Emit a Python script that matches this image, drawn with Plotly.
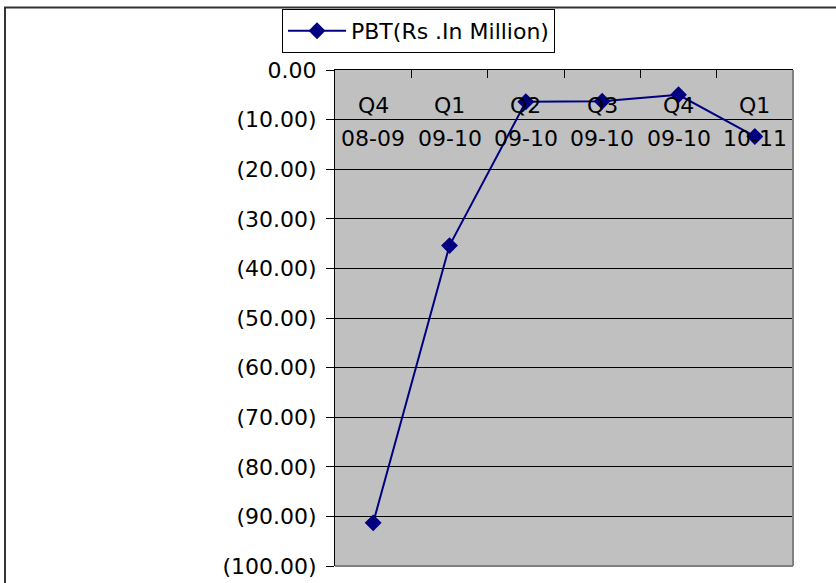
import plotly.graph_objects as go

# ---- data ----
quarters = ["Q4", "Q1", "Q2", "Q3", "Q4", "Q1"]
years = ["08-09", "09-10", "09-10", "09-10", "09-10", "10-11"]
categories = [q + " " + y for q, y in zip(quarters, years)]
pbt = [-91.3, -35.4, -6.4, -6.3, -5.0, -13.4]
series_name = "PBT(Rs .In Million)"

y_tickvals = [0, -10, -20, -30, -40, -50, -60, -70, -80, -90, -100]
y_ticktext = ["0.00", "(10.00)", "(20.00)", "(30.00)", "(40.00)", "(50.00)",
              "(60.00)", "(70.00)", "(80.00)", "(90.00)", "(100.00)"]

FONT = dict(family="DejaVu Sans", size=22, color="black")
NAVY = "#000080"

W, H = 836, 583
L, R, T, B = 335, 43, 70, 17
pw, ph = W - L - R, H - T - B


def px_x(x):
    return (x - L) / pw


def px_y(y):
    return 1 - (y - T) / ph


fig = go.Figure()
fig.add_trace(go.Scatter(
    x=categories, y=pbt, name=series_name, mode="lines+markers",
    line=dict(color=NAVY, width=2),
    marker=dict(symbol="diamond", size=13, color=NAVY),
    showlegend=True,
))

annotations = []
for c, q, yr in zip(categories, quarters, years):
    annotations.append(dict(x=c, xref="x", y=px_y(105), yref="paper", text=q,
                            showarrow=False, font=FONT, xanchor="center", yanchor="middle"))
    annotations.append(dict(x=c, xref="x", y=px_y(138), yref="paper", text=yr,
                            showarrow=False, font=FONT, xanchor="center", yanchor="middle"))

shapes = [
    # right and bottom plot-area borders (gray)
    dict(type="line", xref="paper", yref="paper", x0=1, x1=1, y0=0, y1=1,
         line=dict(color="#808080", width=2)),
    dict(type="line", xref="paper", yref="paper", x0=0, x1=1, y0=0, y1=0,
         line=dict(color="#808080", width=2)),
    # outer chart frame (left and top)
    dict(type="line", xref="paper", yref="paper", x0=px_x(5), x1=px_x(5),
         y0=px_y(7.5), y1=px_y(600), line=dict(color="#333333", width=2)),
    dict(type="line", xref="paper", yref="paper", x0=px_x(4), x1=px_x(850),
         y0=px_y(7.5), y1=px_y(7.5), line=dict(color="#333333", width=2)),
]

fig.update_layout(
    width=W, height=H,
    margin=dict(l=L, r=R, t=T, b=B, pad=0, autoexpand=False),
    paper_bgcolor="white", plot_bgcolor="#C0C0C0",
    font=FONT,
    showlegend=True,
    legend=dict(x=px_x(282), y=px_y(9), xanchor="left", yanchor="top",
                bgcolor="white", bordercolor="black", borderwidth=1,
                font=FONT, itemwidth=58, tracegroupgap=0),
    annotations=annotations,
    shapes=shapes,
    xaxis=dict(type="category", side="top", range=[-0.5, 5.5],
               showticklabels=False, ticks="inside", tickson="boundaries",
               ticklen=8, tickcolor="black", showline=True, linecolor="black",
               linewidth=1, showgrid=False, zeroline=False, fixedrange=True,
               automargin=False),
    yaxis=dict(range=[-100, 0], tickvals=y_tickvals, ticktext=y_ticktext,
               ticks="outside", ticklen=8, tickcolor="black", showline=True,
               linecolor="black", linewidth=1, showgrid=True, gridcolor="black",
               gridwidth=1, zeroline=False, ticklabelstandoff=5, fixedrange=True,
               automargin=False),
)

fig.write_html(
    "out.html",
    config={"displayModeBar": False},
    post_script="document.body.style.margin='0';document.body.style.overflow='hidden';",
)
